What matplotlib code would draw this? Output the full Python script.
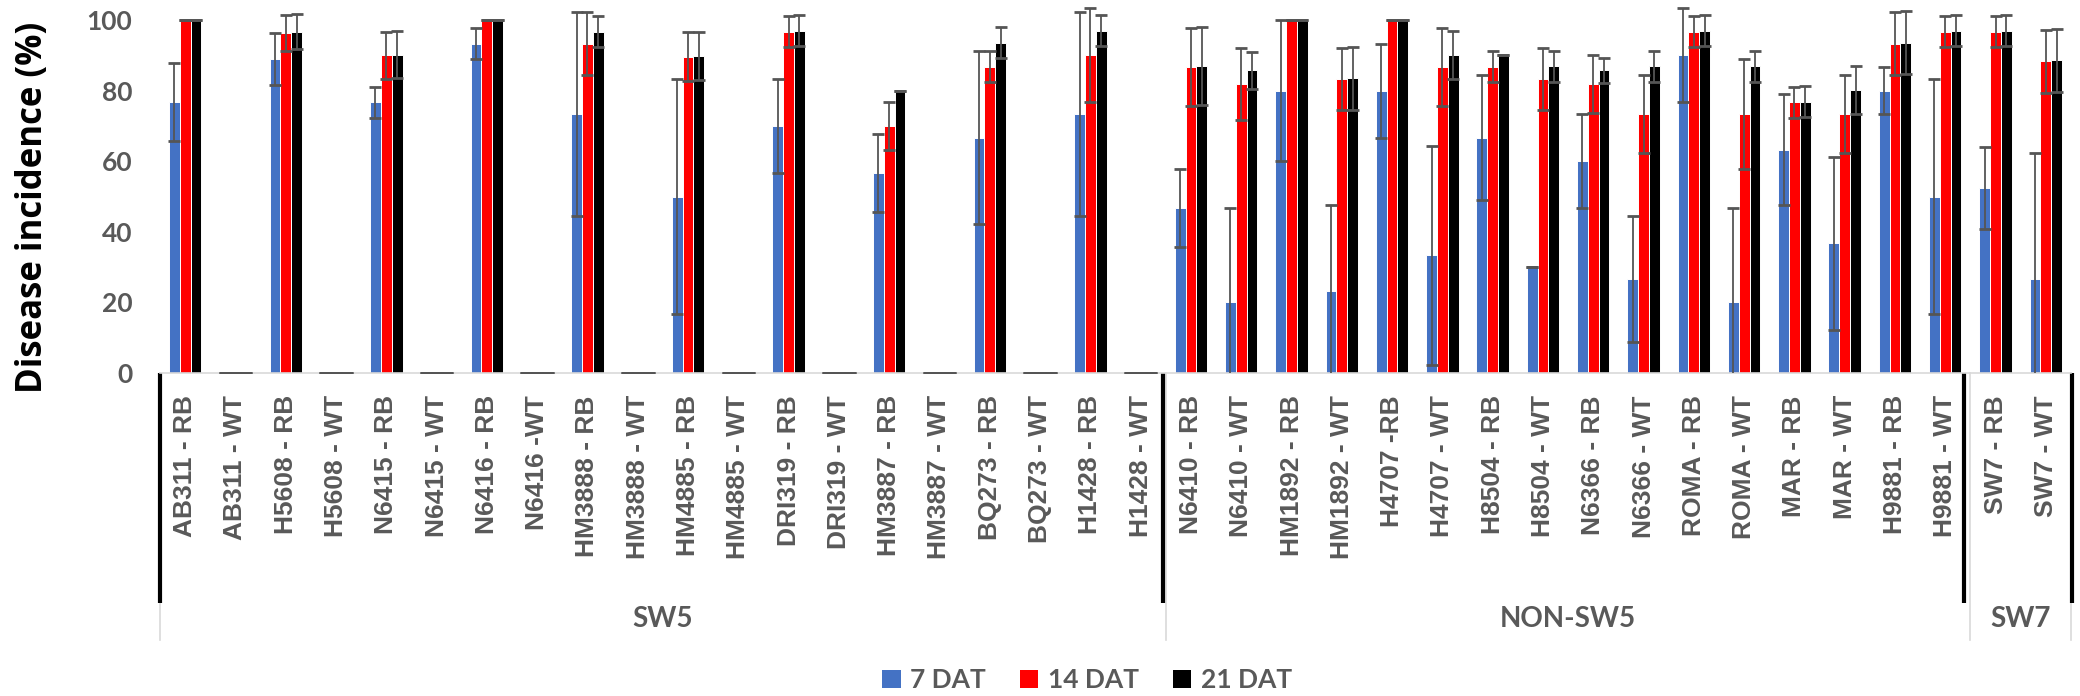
import numpy as np
import matplotlib
matplotlib.use("Agg")
import matplotlib.pyplot as plt
from matplotlib.patches import Patch

categories = ["AB311 - RB", "AB311 - WT", "H5608 - RB", "H5608 - WT", "N6415 - RB", "N6415 - WT",
              "N6416 - RB", "N6416 -WT", "HM3888 - RB", "HM3888 - WT", "HM4885 - RB", "HM4885 - WT",
              "DRI319 - RB", "DRI319 - WT", "HM3887 - RB", "HM3887 - WT", "BQ273 - RB", "BQ273 - WT",
              "H1428 - RB", "H1428 - WT",
              "N6410 - RB", "N6410 - WT", "HM1892 - RB", "HM1892 - WT", "H4707 -RB", "H4707 - WT",
              "H8504 - RB", "H8504 - WT", "N6366 - RB", "N6366 - WT", "ROMA - RB", "ROMA - WT",
              "MAR - RB", "MAR - WT", "H9881 - RB", "H9881 - WT",
              "SW7 - RB", "SW7 - WT"]
groups = ["SW5", "NON-SW5", "SW7"]
group_sizes = [20, 16, 2]
series = ["7 DAT", "14 DAT", "21 DAT"]

dat7 = [76.7, 0, 88.9, 0, 76.7, 0, 93.3, 0, 73.3, 0, 50, 0, 70, 0, 56.7, 0, 66.7, 0, 73.3, 0,
        46.7, 20, 80, 23.3, 80, 33.3, 66.7, 30, 60, 26.7, 90, 20, 63.3, 36.7, 80, 50,
        52.4, 26.7]
err7 = [11.1, 0, 7.4, 0, 4.4, 0, 4.4, 0, 28.9, 0, 33.3, 0, 13.3, 0, 11.1, 0, 24.4, 0, 28.9, 0,
        11.1, 26.7, 20, 24.4, 13.3, 31.1, 17.8, 0, 13.3, 17.8, 13.3, 26.7, 15.6, 24.4, 6.7, 33.3,
        11.7, 35.6]
dat14 = [100, 0, 96.3, 0, 90, 0, 100, 0, 93.3, 0, 89.6, 0, 96.7, 0, 70, 0, 86.7, 0, 90, 0,
         86.7, 81.9, 100, 83.3, 100, 86.7, 86.7, 83.3, 81.9, 73.3, 96.7, 73.3, 76.7, 73.3, 93.3, 96.7,
         96.7, 88.3]
err14 = [0, 0, 5.0, 0, 6.7, 0, 0, 0, 8.9, 0, 6.9, 0, 4.4, 0, 6.7, 0, 4.4, 0, 13.3, 0,
         11.1, 10.2, 0, 8.9, 0, 11.1, 4.4, 8.9, 8.2, 11.1, 4.4, 15.6, 4.4, 11.1, 8.9, 4.4,
         4.4, 8.9]
dat21 = [100, 0, 96.7, 0, 90.2, 0, 100, 0, 96.7, 0, 89.8, 0, 96.9, 0, 80, 0, 93.6, 0, 96.9, 0,
         86.9, 85.7, 100, 83.5, 100, 90.1, 90.1, 86.9, 85.7, 86.9, 96.9, 86.9, 76.9, 80.2, 93.6, 96.9,
         96.9, 88.6]
err21 = [0, 0, 5.0, 0, 6.7, 0, 0, 0, 4.4, 0, 6.7, 0, 4.4, 0, 0, 0, 4.4, 0, 4.4, 0,
         11.1, 5.2, 0, 8.9, 0, 6.7, 0, 4.4, 3.6, 4.4, 4.4, 4.4, 4.4, 6.7, 8.9, 4.4,
         4.4, 8.9]
yticks = [0, 20, 40, 60, 80, 100]

colors = ["#4472C4", "#FF0000", "#000000"]
grey_txt = "#595959"

W, H = 2080, 696
fig = plt.figure(figsize=(W / 100, H / 100), dpi=100)
ax_left, ax_right, ax_zero = 160, 2071, 373
ax = fig.add_axes([ax_left / W, 1 - ax_zero / H, (ax_right - ax_left) / W, ax_zero / H])

x = np.arange(len(categories))
bw = 0.215
for i, (vals, errs) in enumerate([(dat7, err7), (dat14, err14), (dat21, err21)]):
    pos = x + (i - 1) * bw
    ax.bar(pos, vals, width=bw, color=colors[i], edgecolor="white", linewidth=0.7, zorder=2)
    ax.errorbar(pos, vals, yerr=errs, fmt="none", ecolor="#555555", elinewidth=1.3,
                capsize=4, capthick=2.0, zorder=3)

ax.set_xlim(-0.5, len(categories) - 0.5)
ax.set_ylim(0, ax_zero / 3.53)
ax.set_yticks(yticks)
ax.set_yticklabels([str(v) for v in yticks], fontsize=19, fontweight="bold",
                   family=["Lato", "DejaVu Sans"], color=grey_txt)
ax.set_xticks(x)
ax.set_xticklabels(categories, rotation=90, fontsize=19, fontweight="bold",
                   family=["Liberation Sans", "DejaVu Sans"], color=grey_txt, va="top", ha="center")
ax.tick_params(axis="y", length=0, pad=20)
ax.tick_params(axis="x", length=0, pad=16)
for s in ["left", "top", "right"]:
    ax.spines[s].set_visible(False)
ax.spines["bottom"].set_color("#D9D9D9")
ax.spines["bottom"].set_linewidth(1.2)

trans = ax.get_xaxis_transform()
bounds = np.concatenate([[0], np.cumsum(group_sizes)]) - 0.5
offsets = [0.0, -0.05, -0.12, 0.02]
for b, off in zip(bounds, offsets):
    ax.plot([b, b], [0, -0.716], transform=trans, color="#D9D9D9", lw=1.2, clip_on=False, zorder=1)
    ax.plot([b + off, b + off], [0, -0.617], transform=trans, color="black", lw=3,
            clip_on=False, zorder=2, solid_capstyle="butt")
for g, lo, hi in zip(groups, bounds[:-1], bounds[1:]):
    ax.text((lo + hi) / 2, (ax_zero - 619) / ax_zero, g, transform=trans, ha="center", va="center",
            fontsize=20, fontweight="bold", family=["Lato", "DejaVu Sans"], color=grey_txt)

fig.text(33 / W, 1 - 207 / H, "Disease incidence (%)", rotation=90, ha="center", va="center",
         fontsize=25, fontweight="bold", family=["Open Sans", "DejaVu Sans"], color="black")

handles = [Patch(facecolor=c, edgecolor="none", label=s) for c, s in zip(colors, series)]
leg = fig.legend(handles=handles, loc="center", bbox_to_anchor=(1087 / W, 1 - 680 / H), ncol=3,
                 frameon=False, prop={"family": ["Lato", "DejaVu Sans"], "weight": "bold", "size": 19},
                 handlelength=0.7, handleheight=0.7, handletextpad=0.35, columnspacing=1.3,
                 borderpad=0, borderaxespad=0)
for t in leg.get_texts():
    t.set_color(grey_txt)

fig.savefig("out.png", dpi=100)
